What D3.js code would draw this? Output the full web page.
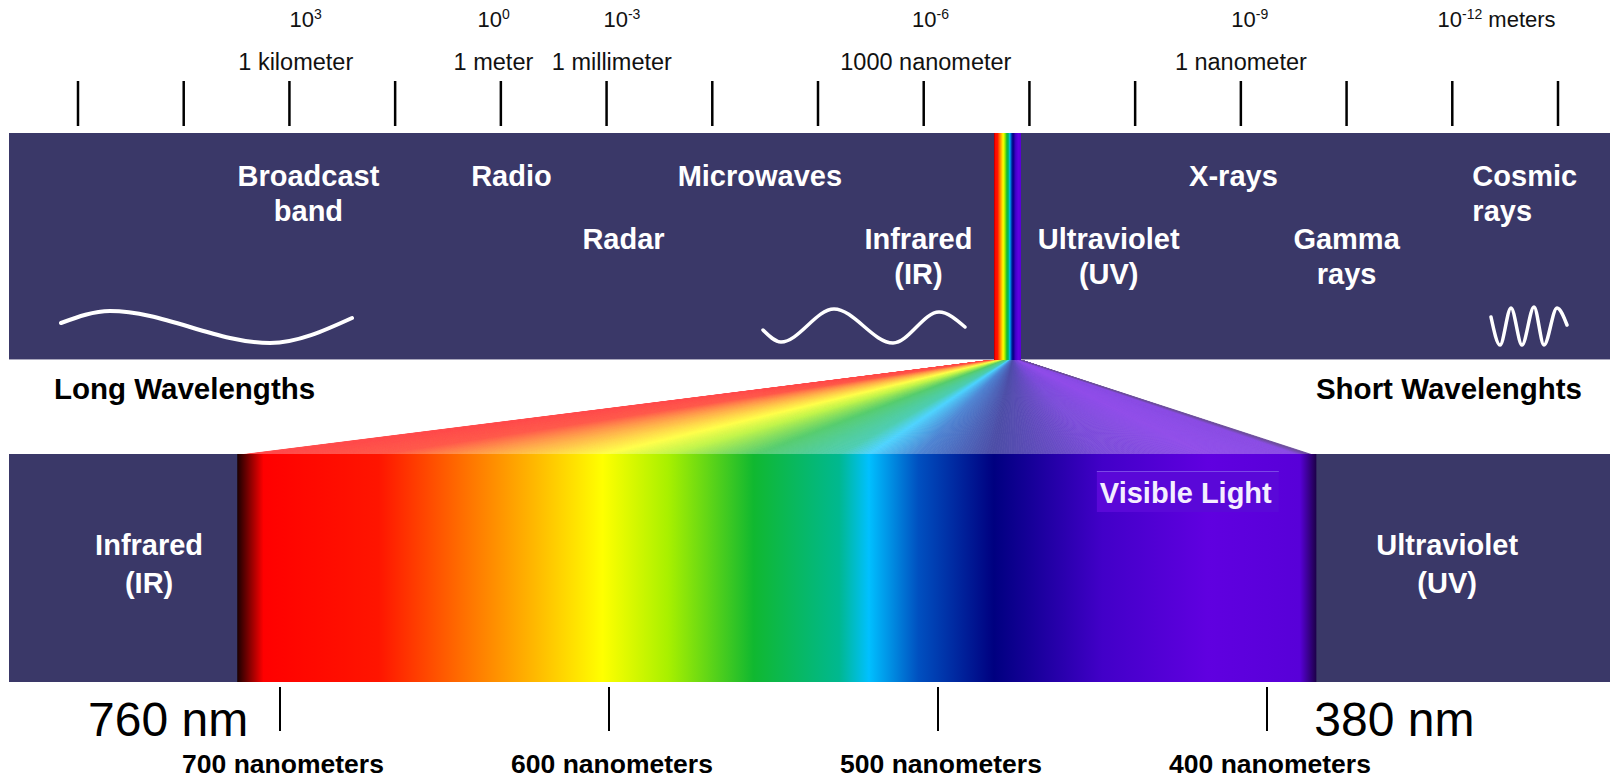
<!DOCTYPE html>
<html><head><meta charset="utf-8">
<script src="https://cdn.jsdelivr.net/npm/d3@7"></script>
<style>html,body{margin:0;padding:0;background:#fff;overflow:hidden}</style>
</head><body><svg id="chart" width="1610" height="778"></svg>
<script>
// ---------------- data ----------------
const decadeTickCount = 15;                       // tick marks on the top ruler
const decadeExponents = ["3", "0", "-3", "-6", "-9", "-12"];
const decadeExpPos    = [2.00, 3.78, 4.97, 7.89, 10.91, 12.86];   // ruler position (tick index)
const decadeSuffix    = ["", "", "", "", "", " meters"];
const scaleNames      = ["1 kilometer", "1 meter", "1 millimeter", "1000 nanometer", "1 nanometer"];
const scaleNamePos    = [2.06, 3.93, 5.05, 8.02, 11.00];

const bandNames = ["Broadcast\nband", "Radio", "Microwaves", "Radar", "Infrared\n(IR)",
                   "Ultraviolet\n(UV)", "X-rays", "Gamma\nrays", "Cosmic\nrays"];
const bandPos   = [2.18, 4.10, 6.45, 5.16, 7.95, 9.75, 10.93, 12.00, 13.19];
const bandRow   = [0, 0, 0, 2, 2, 2, 0, 2, 0];

const visibleTicks      = [700, 600, 500, 400];
const visibleTickLabels = ["700 nanometers", "600 nanometers", "500 nanometers", "400 nanometers"];
const visibleLimitLabels = ["760 nm", "380 nm"];

// colour stops of the visible spectrum (nm -> colour)
const spectrumNm     = [713, 705, 670, 644, 625, 602, 582, 556, 530, 521, 506, 483, 450, 418, 390, 385];
const spectrumColors = ["#1a0000", "#ff0000", "#ff1500", "#ff7000", "#ffb000", "#ffff00", "#a8f000",
                        "#10b830", "#00b890", "#00c0ff", "#0050c0", "#000080", "#4200c8", "#6000e0",
                        "#5800d8", "#1c0048"];

// decorative wave icons (white strokes)
const waveLong  = [[61,323],[110,311],[270,343],[352,318]];
const waveIR    = [[763,330],[781,342],[834,309],[893,343],[939,312],[965,327]];
const waveCosmic= [[1491,317],[1500,345],[1511,308],[1522,345],[1534,307],[1544,345],[1557,308],[1567,325]];

// ---------------- layout ----------------
const FONT = '"Liberation Sans", Arial, Helvetica, sans-serif';
const NAVY = "#3a3868";
const L = {
  bandX0: 9, bandX1: 1610,
  top: {y0: 133, y1: 360},
  low: {y0: 454, y1: 682},
  ruler: {x0: 78, x1: 1558, y0: 81, y1: 126},
  strip: {x0: 994, x1: 1021},
  fan: {x0: 240, x1: 1313},
  rowBase: [186, 220.5, 249, 284]
};

const svg = d3.select("#chart");
const defs = svg.append("defs");

const xRuler = d3.scaleLinear().domain([0, decadeTickCount - 1]).range([L.ruler.x0, L.ruler.x1]);
const xNm = d3.scaleLinear().domain([700, 400]).range([280, 1267]);
const nmMax = d3.max(spectrumNm), nmMin = d3.min(spectrumNm);
const colorNm = d3.scaleLinear().domain(spectrumNm).range(spectrumColors)
  .interpolate(d3.interpolateRgb).clamp(true);

// gradient for the spectrum
const grad = defs.append("linearGradient").attr("id", "spec")
  .attr("x1", "0%").attr("x2", "100%").attr("y1", "0%").attr("y2", "0%");
grad.selectAll("stop").data(spectrumNm).join("stop")
  .attr("offset", d => ((nmMax - d) / (nmMax - nmMin) * 100) + "%")
  .attr("stop-color", (d, i) => spectrumColors[i]);

// ---------------- fan (dispersion) ----------------
const N = 420;
const sw = L.strip.x1 - L.strip.x0, fw = L.fan.x1 - L.fan.x0;
const slices = d3.range(N).map(i => i / N);
const fanColor = t => {
  const xb = L.fan.x0 + (t + 0.5 / N) * fw;
  const c = colorNm(Math.min(705, xNm.invert(xb)));
  return d3.interpolateRgb("#ffffff", c)(0.7);
};
svg.append("g").selectAll("path").data(slices).join("path")
  .attr("d", t => {
    const t1 = Math.min(1, t + 1 / N);
    return d3.line()([
      [L.strip.x0 + t * sw, L.top.y1],
      [L.strip.x0 + t1 * sw, L.top.y1],
      [L.fan.x0 + t1 * fw, L.low.y0 + 1],
      [L.fan.x0 + t * fw, L.low.y0 + 1]
    ]) + "Z";
  })
  .attr("fill", fanColor)
  .attr("stroke", fanColor).attr("stroke-width", 0.8).attr("stroke-linejoin", "round");

// ---------------- top band ----------------
svg.append("rect").attr("x", L.bandX0).attr("y", L.top.y0)
  .attr("width", L.bandX1 - L.bandX0).attr("height", L.top.y1 - L.top.y0).attr("fill", NAVY);
svg.append("line").attr("x1", L.bandX0).attr("x2", L.bandX1)
  .attr("y1", L.top.y1 - 0.5).attr("y2", L.top.y1 - 0.5)
  .attr("stroke", "#a9a7bd").attr("stroke-width", 1);
svg.append("rect").attr("x", L.strip.x0).attr("y", L.top.y0)
  .attr("width", sw).attr("height", L.top.y1 - L.top.y0).attr("fill", "url(#spec)");

// ---------------- lower band ----------------
svg.append("rect").attr("x", L.bandX0).attr("y", L.low.y0)
  .attr("width", L.bandX1 - L.bandX0).attr("height", L.low.y1 - L.low.y0).attr("fill", NAVY);
const specX0 = xNm(nmMax), specX1 = xNm(nmMin);
svg.append("rect").attr("x", specX0).attr("y", L.low.y0)
  .attr("width", specX1 - specX0).attr("height", L.low.y1 - L.low.y0).attr("fill", "url(#spec)");

// ---------------- top ruler ----------------
svg.append("g").selectAll("line").data(d3.range(decadeTickCount)).join("line")
  .attr("x1", d => xRuler(d)).attr("x2", d => xRuler(d))
  .attr("y1", L.ruler.y0).attr("y2", L.ruler.y1)
  .attr("stroke", "#000").attr("stroke-width", 2.5);

const expG = svg.append("g").attr("font-family", FONT).attr("fill", "#111");
decadeExponents.forEach((e, i) => {
  const t = expG.append("text").attr("x", xRuler(decadeExpPos[i])).attr("y", 27)
    .attr("font-size", 22);
  t.append("tspan").text("10");
  t.append("tspan").attr("font-size", 14).attr("dy", -8).text(e);
  if (decadeSuffix[i]) t.append("tspan").attr("dy", 8).text(decadeSuffix[i]);
});
svg.append("g").selectAll("text").data(scaleNames).join("text")
  .attr("x", (d, i) => xRuler(scaleNamePos[i])).attr("y", 70)
  .attr("text-anchor", "middle").attr("font-family", FONT).attr("font-size", 23.5)
  .attr("fill", "#111").text(d => d);

// ---------------- band labels ----------------
const bandG = svg.append("g").attr("font-family", FONT).attr("font-weight", "bold")
  .attr("font-size", 29).attr("fill", "#fff");
bandNames.forEach((name, i) => {
  const anchor = name.startsWith("Cosmic") ? "start" : "middle";
  name.split("\n").forEach((line, j) => {
    bandG.append("text").attr("x", xRuler(bandPos[i])).attr("y", L.rowBase[bandRow[i] + j])
      .attr("text-anchor", anchor).text(line);
  });
});

// ---------------- waves ----------------
const waveLine = d3.line().curve(d3.curveMonotoneX);
svg.append("g").selectAll("path").data([waveLong, waveIR, waveCosmic]).join("path")
  .attr("d", waveLine).attr("fill", "none").attr("stroke", "#fff")
  .attr("stroke-width", (d, i) => i === 0 ? 4 : 3.5).attr("stroke-linecap", "round");

// ---------------- long / short wavelength captions ----------------
const capG = svg.append("g").attr("font-family", FONT).attr("font-weight", "bold")
  .attr("font-size", 29.5).attr("fill", "#000");
capG.append("text").attr("x", 54).attr("y", 399).text("Long Wavelengths");
capG.append("text").attr("x", 1582).attr("y", 399).attr("text-anchor", "end").text("Short Wavelenghts");

// ---------------- lower band labels ----------------
const lowG = svg.append("g").attr("font-family", FONT).attr("font-weight", "bold")
  .attr("font-size", 29).attr("fill", "#fff").attr("text-anchor", "middle");
[["Infrared", "(IR)", (L.bandX0 + specX0) / 2 + 26], ["Ultraviolet", "(UV)", (specX1 + L.bandX1) / 2 - 16]]
  .forEach(([a, b, x]) => {
    lowG.append("text").attr("x", x).attr("y", 555).text(a);
    lowG.append("text").attr("x", x).attr("y", 593).text(b);
  });

// Visible light tag
const vlX = xNm(450.8);
svg.append("rect").attr("x", vlX - 3).attr("y", 471).attr("width", 182).attr("height", 41)
  .attr("fill", "#5a08d8");
svg.append("line").attr("x1", vlX - 3).attr("x2", vlX + 179).attr("y1", 471.5).attr("y2", 471.5)
  .attr("stroke", "#7b48e6").attr("stroke-width", 1);
svg.append("text").attr("x", vlX).attr("y", 503).attr("font-family", FONT).attr("font-weight", "bold")
  .attr("font-size", 29).attr("fill", "#f4eeff").text("Visible Light");

// ---------------- visible ticks ----------------
svg.append("g").selectAll("line").data(visibleTicks).join("line")
  .attr("x1", d => xNm(d)).attr("x2", d => xNm(d)).attr("y1", 687).attr("y2", 731)
  .attr("stroke", "#000").attr("stroke-width", 2);
svg.append("g").selectAll("text").data(visibleTickLabels).join("text")
  .attr("x", (d, i) => xNm(visibleTicks[i]) + 3).attr("y", 773)
  .attr("text-anchor", "middle").attr("font-family", FONT).attr("font-weight", "bold")
  .attr("font-size", 26.5).attr("fill", "#000").text(d => d);

const limG = svg.append("g").attr("font-family", FONT).attr("font-size", 48).attr("fill", "#000");
limG.append("text").attr("x", specX0 + 11).attr("y", 736).attr("text-anchor", "end").text(visibleLimitLabels[0]);
limG.append("text").attr("x", specX1 - 2).attr("y", 736).attr("text-anchor", "start").text(visibleLimitLabels[1]);
</script>
</body></html>
